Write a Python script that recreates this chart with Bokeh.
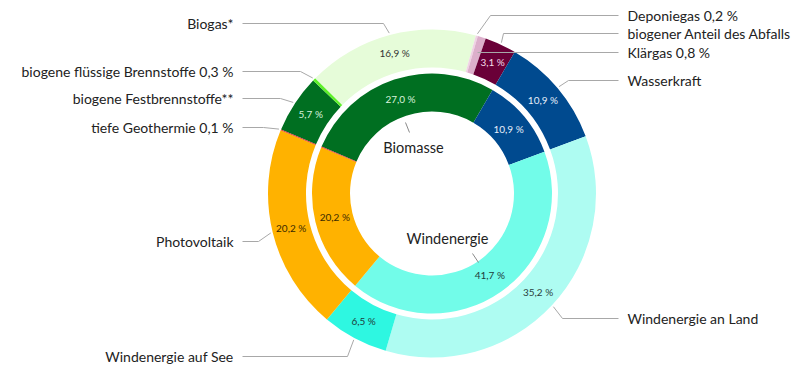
import math
from bokeh.plotting import figure
from bokeh.models import Range1d
from bokeh.embed import file_html
from bokeh.resources import INLINE
from bokeh.core.properties import value

# ---------------- data ----------------
inner_names = ["Biomasse", "Wasserkraft", "Windenergie", "Photovoltaik", "Geothermie"]
inner_values = [27.0, 10.9, 41.7, 20.2, 0.1]
inner_show = [True, True, True, True, False]

outer_names = ["biogene Festbrennstoffe**", "biogene flüssige Brennstoffe 0,3 %", "Biogas*",
               "Deponiegas 0,2 %", "Klärgas 0,8 %", "biogener Anteil des Abfalls",
               "Wasserkraft", "Windenergie an Land", "Windenergie auf See", "Photovoltaik",
               "tiefe Geothermie 0,1 %"]
outer_values = [5.7, 0.3, 16.9, 0.2, 0.8, 3.1, 10.9, 35.2, 6.5, 20.2, 0.1]
outer_show = [True, False, True, False, False, True, True, True, True, True, False]

# ---------------- styles ----------------
inner_colors = ["#006f21", "#004a8f", "#72fce9", "#ffb200", "#e0302a"]
inner_text_colors = ["#d9f2dc", "#e6eefa", "#1f3b3a", "#3a2a00", "#000000"]
outer_colors = ["#006f21", "#5ef02a", "#e6fcd9", "#f0d2e4", "#dcafcb", "#6a0038",
                "#004a8f", "#aefcf2", "#2ef7e1", "#ffb200", "#e0302a"]
outer_text_colors = ["#d9f2dc", "#000", "#333333", "#000", "#000", "#f3dce8",
                     "#e6eefa", "#2b3f3e", "#1f3b3a", "#3a2a00", "#000"]

FONT = "Lato"
LINE_COLOR = "#a8a8a8"

W, H = 795, 370


def Y(py):
    return H - py


CX, CY = 431.5, Y(193)
R_IN0, R_IN1 = 82, 120
R_OUT0, R_OUT1 = 126, 164
START = 157.0

# label layout: name -> (side, label_y_px, elbow_x_px or None, anchor radius)
layout = {
    "Biogas*": ("L", 23, 383, 166),
    "biogene flüssige Brennstoffe 0,3 %": ("L", 71, 300, 166),
    "biogene Festbrennstoffe**": ("L", 98, 280, 166),
    "tiefe Geothermie 0,1 %": ("L", 127, 263, 166),
    "Photovoltaik": ("L", 241, 258, 166),
    "Windenergie auf See": ("L", 356, 347, 166),
    "Deponiegas 0,2 %": ("R", 15, 490, 166),
    "biogener Anteil des Abfalls": ("R", 33, 503, 166),
    "Klärgas 0,8 %": ("R", 52, None, 150),
    "Wasserkraft": ("R", 80, 568, 166),
    "Windenergie an Land": ("R", 318, 562, 166),
}
LEFT_LINE_X, LEFT_TEXT_X = 242, 233
RIGHT_LINE_X, RIGHT_TEXT_X = 618, 627


def angles(vals):
    total = sum(vals)
    k = 360.0 / total
    starts, ends, mids = [], [], []
    acc = 0.0
    for v in vals:
        a0 = START - acc * k
        acc += v
        a1 = START - acc * k
        starts.append(a0)
        ends.append(a1)
        mids.append((a0 + a1) / 2)
    return starts, ends, mids


def fmt(v):
    return f"{v:.1f}".replace(".", ",") + " %"


p = figure(width=W, height=H, output_backend="svg", toolbar_location=None,
           x_range=Range1d(0, W), y_range=Range1d(0, H),
           min_border=0, outline_line_color=None)
p.axis.visible = False
p.grid.visible = False
p.background_fill_color = "white"
p.border_fill_color = "white"

# rings
i_s, i_e, i_m = angles(inner_values)
o_s, o_e, o_m = angles(outer_values)

p.annular_wedge(x=CX, y=CY, inner_radius=R_IN0, outer_radius=R_IN1,
                start_angle=[math.radians(a) for a in i_s],
                end_angle=[math.radians(a) for a in i_e],
                direction="clock", fill_color=inner_colors, line_color=None)
p.annular_wedge(x=CX, y=CY, inner_radius=R_OUT0, outer_radius=R_OUT1,
                start_angle=[math.radians(a) for a in o_s],
                end_angle=[math.radians(a) for a in o_e],
                direction="clock", fill_color=outer_colors, line_color=None)


# percent labels inside rings
def ring_labels(vals, mids, show, colors, r):
    xs, ys, ts, cs = [], [], [], []
    for v, m, s, c in zip(vals, mids, show, colors):
        if not s:
            continue
        xs.append(CX + r * math.cos(math.radians(m)))
        ys.append(CY + r * math.sin(math.radians(m)))
        ts.append(fmt(v))
        cs.append(c)
    p.text(x=xs, y=ys, text=ts, text_color=cs, text_font=value(FONT),
           text_font_size="10px", text_align="center", text_baseline="middle")


ring_labels(inner_values, i_m, inner_show, inner_text_colors, 100)
ring_labels(outer_values, o_m, outer_show, outer_text_colors, 145)

# leader lines + outside labels
for name, m in zip(outer_names, o_m):
    side, ly, ex, ar = layout[name]
    ax = CX + ar * math.cos(math.radians(m))
    ay = CY + ar * math.sin(math.radians(m))
    yy = Y(ly)
    if side == "L":
        xs = [ax, ex, LEFT_LINE_X]
        ys = [ay, yy, yy]
        p.line(xs, ys, line_color=LINE_COLOR, line_width=1)
        p.text(x=[LEFT_TEXT_X], y=[yy], text=[name], text_font=value(FONT),
               text_font_size="14px", text_color="#222222",
               text_align="right", text_baseline="middle")
    else:
        if ex is None:
            xs = [ax, RIGHT_LINE_X]
            ys = [yy, yy]
        else:
            xs = [ax, ex, RIGHT_LINE_X]
            ys = [ay, yy, yy]
        p.line(xs, ys, line_color=LINE_COLOR, line_width=1)
        p.text(x=[RIGHT_TEXT_X], y=[yy], text=[name], text_font=value(FONT),
               text_font_size="14px", text_color="#222222",
               text_align="left", text_baseline="middle")

# center category labels
p.line([405, 409], [Y(122), Y(132)], line_color="#8a8a8a", line_width=1)
p.text(x=[413], y=[Y(147)], text=["Biomasse"], text_font=value(FONT),
       text_font_size="14.5px", text_color="#222222", text_align="center", text_baseline="middle")
p.line([472, 478], [Y(253), Y(262)], line_color="#8a8a8a", line_width=1)
p.text(x=[447], y=[Y(238)], text=["Windenergie"], text_font=value(FONT),
       text_font_size="14.5px", text_color="#222222", text_align="center", text_baseline="middle")

open("out.html", "w").write(file_html(p, INLINE))
